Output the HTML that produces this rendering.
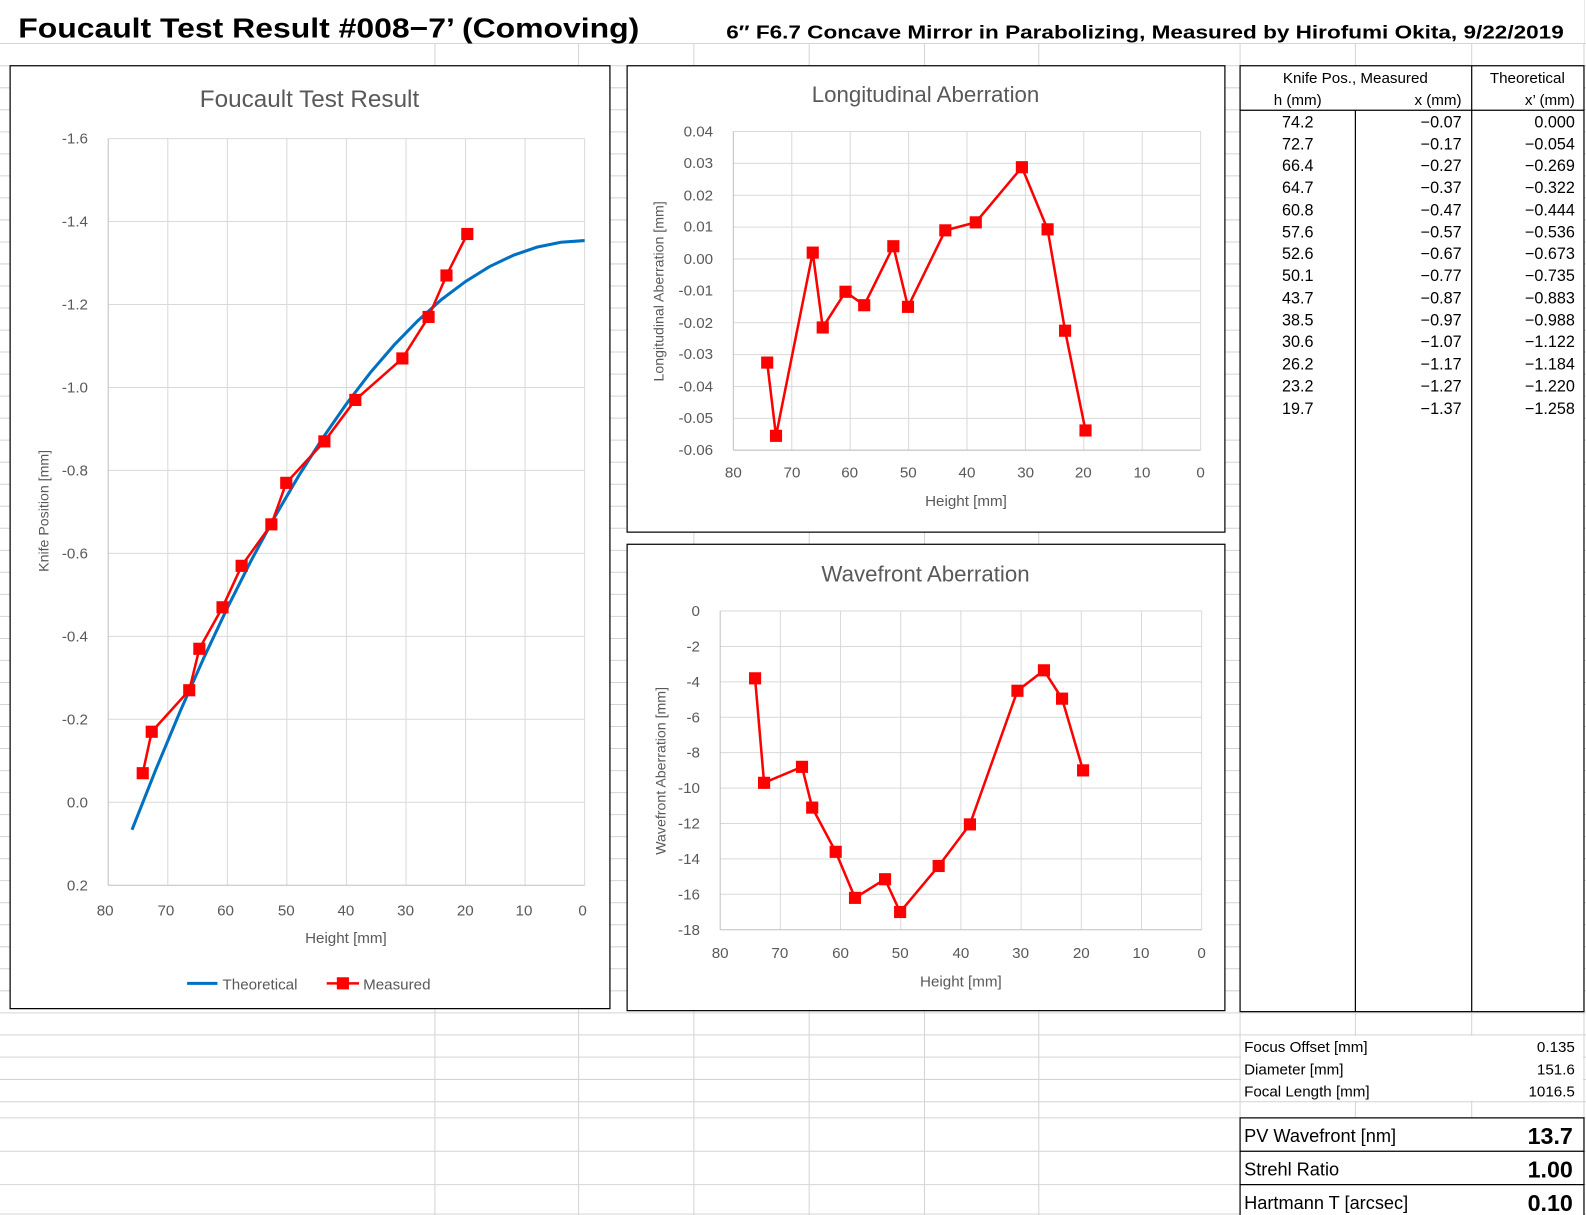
<!DOCTYPE html>
<html><head><meta charset="utf-8"><style>
html,body{margin:0;padding:0;background:#fff;}
svg{display:block;}
.t{font-family:"Liberation Sans",sans-serif;fill:#595959;}
.s{font-family:"Liberation Sans","Noto Sans CJK JP",sans-serif;fill:#000;}
</style></head><body>
<svg width="1586" height="1215" viewBox="0 0 1568 1201" preserveAspectRatio="none" xmlns="http://www.w3.org/2000/svg">
<rect width="1568" height="1201" fill="#fff"/>
<g stroke="#d4d4d4" stroke-width="1">
<line x1="0" y1="43" x2="1568" y2="43"/>
<line x1="0" y1="65" x2="1568" y2="65"/>
<line x1="430" y1="43" x2="430" y2="1201"/><line x1="572" y1="43" x2="572" y2="1201"/>
<line x1="686" y1="43" x2="686" y2="1201"/><line x1="800" y1="43" x2="800" y2="1201"/>
<line x1="914" y1="43" x2="914" y2="1201"/><line x1="1027" y1="43" x2="1027" y2="1201"/>
<line x1="1226" y1="43" x2="1226" y2="1201"/><line x1="1340" y1="43" x2="1340" y2="1105"/>
<line x1="1455" y1="43" x2="1455" y2="1105"/><line x1="1566" y1="0" x2="1566" y2="1201"/>
</g>
<g stroke="#d4d4d4">
<line x1="0" y1="86.8" x2="1568" y2="86.8"/><line x1="0" y1="108.5" x2="1568" y2="108.5"/><line x1="0" y1="130.3" x2="1568" y2="130.3"/><line x1="0" y1="152.1" x2="1568" y2="152.1"/><line x1="0" y1="173.9" x2="1568" y2="173.9"/><line x1="0" y1="195.6" x2="1568" y2="195.6"/><line x1="0" y1="217.4" x2="1568" y2="217.4"/><line x1="0" y1="239.2" x2="1568" y2="239.2"/><line x1="0" y1="260.9" x2="1568" y2="260.9"/><line x1="0" y1="282.7" x2="1568" y2="282.7"/><line x1="0" y1="304.5" x2="1568" y2="304.5"/><line x1="0" y1="326.3" x2="1568" y2="326.3"/><line x1="0" y1="348" x2="1568" y2="348"/><line x1="0" y1="369.8" x2="1568" y2="369.8"/><line x1="0" y1="391.6" x2="1568" y2="391.6"/><line x1="0" y1="413.3" x2="1568" y2="413.3"/><line x1="0" y1="435.1" x2="1568" y2="435.1"/><line x1="0" y1="456.9" x2="1568" y2="456.9"/><line x1="0" y1="478.7" x2="1568" y2="478.7"/><line x1="0" y1="500.4" x2="1568" y2="500.4"/><line x1="0" y1="522.2" x2="1568" y2="522.2"/><line x1="0" y1="544" x2="1568" y2="544"/><line x1="0" y1="565.7" x2="1568" y2="565.7"/><line x1="0" y1="587.5" x2="1568" y2="587.5"/><line x1="0" y1="609.3" x2="1568" y2="609.3"/><line x1="0" y1="631.1" x2="1568" y2="631.1"/><line x1="0" y1="652.8" x2="1568" y2="652.8"/><line x1="0" y1="674.6" x2="1568" y2="674.6"/><line x1="0" y1="696.4" x2="1568" y2="696.4"/><line x1="0" y1="718.1" x2="1568" y2="718.1"/><line x1="0" y1="739.9" x2="1568" y2="739.9"/><line x1="0" y1="761.7" x2="1568" y2="761.7"/><line x1="0" y1="783.5" x2="1568" y2="783.5"/><line x1="0" y1="805.2" x2="1568" y2="805.2"/><line x1="0" y1="827" x2="1568" y2="827"/><line x1="0" y1="848.8" x2="1568" y2="848.8"/><line x1="0" y1="870.5" x2="1568" y2="870.5"/><line x1="0" y1="892.3" x2="1568" y2="892.3"/><line x1="0" y1="914.1" x2="1568" y2="914.1"/><line x1="0" y1="935.9" x2="1568" y2="935.9"/><line x1="0" y1="957.6" x2="1568" y2="957.6"/><line x1="0" y1="979.4" x2="1568" y2="979.4"/><line x1="0" y1="1001.2" x2="1568" y2="1001.2"/><line x1="0" y1="1023" x2="1568" y2="1023"/><line x1="0" y1="1045" x2="1568" y2="1045"/><line x1="0" y1="1067" x2="1568" y2="1067"/><line x1="0" y1="1089" x2="1568" y2="1089"/><line x1="0" y1="1105" x2="1568" y2="1105"/><line x1="0" y1="1138" x2="1568" y2="1138"/><line x1="0" y1="1171" x2="1568" y2="1171"/><line x1="0" y1="1200" x2="1568" y2="1200"/>
</g>
<rect x="0" y="0" width="1566" height="43" fill="#fff"/>
<line x1="0" y1="43" x2="1568" y2="43" stroke="#d4d4d4"/>
<text class="s" x="18" y="37" font-size="27" font-weight="bold" textLength="614" lengthAdjust="spacingAndGlyphs">Foucault Test Result #008−7’ (Comoving)</text>
<text class="s" x="718" y="38" font-size="18" font-weight="bold" textLength="828" lengthAdjust="spacingAndGlyphs">6″ F6.7 Concave Mirror in Parabolizing, Measured by Hirofumi Okita, 9/22/2019</text>

<!-- Chart 1 -->
<rect x="10" y="65" width="593" height="932" fill="#fff" stroke="#000" stroke-width="1.2"/>
<text class="t" x="306" y="106" font-size="24" text-anchor="middle">Foucault Test Result</text>
<g stroke="#d9d9d9" stroke-width="1">
<line x1="107" y1="137" x2="578" y2="137"/><line x1="107" y1="219" x2="578" y2="219"/><line x1="107" y1="301" x2="578" y2="301"/><line x1="107" y1="383" x2="578" y2="383"/><line x1="107" y1="465" x2="578" y2="465"/><line x1="107" y1="547" x2="578" y2="547"/><line x1="107" y1="629" x2="578" y2="629"/><line x1="107" y1="711" x2="578" y2="711"/><line x1="107" y1="793" x2="578" y2="793"/>
<line x1="165.9" y1="137" x2="165.9" y2="875"/><line x1="224.8" y1="137" x2="224.8" y2="875"/><line x1="283.6" y1="137" x2="283.6" y2="875"/><line x1="342.5" y1="137" x2="342.5" y2="875"/><line x1="401.4" y1="137" x2="401.4" y2="875"/><line x1="460.3" y1="137" x2="460.3" y2="875"/><line x1="519.1" y1="137" x2="519.1" y2="875"/><line x1="578" y1="137" x2="578" y2="875"/>
</g>
<g stroke="#bfbfbf"><line x1="107" y1="137" x2="107" y2="875"/><line x1="107" y1="875" x2="578" y2="875"/></g>
<g class="t" font-size="15" text-anchor="end">
<text x="87" y="142">-1.6</text><text x="87" y="224">-1.4</text><text x="87" y="306">-1.2</text><text x="87" y="388">-1.0</text><text x="87" y="470">-0.8</text><text x="87" y="552">-0.6</text><text x="87" y="634">-0.4</text><text x="87" y="716">-0.2</text><text x="87" y="798">0.0</text><text x="87" y="880">0.2</text>
</g>
<g class="t" font-size="15" text-anchor="middle">
<text x="104" y="905">80</text><text x="164" y="905">70</text><text x="223" y="905">60</text><text x="283" y="905">50</text><text x="342" y="905">40</text><text x="401" y="905">30</text><text x="460" y="905">20</text><text x="518" y="905">10</text><text x="576" y="905">0</text>
<text x="342" y="932">Height [mm]</text>
<text transform="translate(48,505) rotate(-90)" font-size="14">Knife Position [mm]</text>
</g>
<polyline fill="none" stroke="#0070c0" stroke-width="3" points="130.5,820.3 154.1,760.6 177.7,704.1 201.2,650.9 224.8,600.8 248.3,554.1 271.9,510.5 295.4,470.2 319,433.1 342.5,399.2 366,368.5 389.6,341.1 413.2,316.9 436.7,295.9 460.3,278.2 483.8,263.6 507.4,252.4 530.9,244.3 554.5,239.5 578,237.8"/>
<polyline fill="none" stroke="#ff0000" stroke-width="2.5" points="141.1,764.3 150,723.3 187.1,682.3 197.1,641.3 220,600.3 238.9,559.3 268.3,518.3 283,477.3 320.7,436.3 351.3,395.3 397.8,354.3 423.7,313.3 441.4,272.3 462,231.3"/>
<g fill="#ff0000">
<rect x="135.1" y="758.3" width="12" height="12"/><rect x="144" y="717.3" width="12" height="12"/><rect x="181.1" y="676.3" width="12" height="12"/><rect x="191.1" y="635.3" width="12" height="12"/><rect x="214" y="594.3" width="12" height="12"/><rect x="232.9" y="553.3" width="12" height="12"/><rect x="262.3" y="512.3" width="12" height="12"/><rect x="277" y="471.3" width="12" height="12"/><rect x="314.7" y="430.3" width="12" height="12"/><rect x="345.3" y="389.3" width="12" height="12"/><rect x="391.8" y="348.3" width="12" height="12"/><rect x="417.7" y="307.3" width="12" height="12"/><rect x="435.4" y="266.3" width="12" height="12"/><rect x="456" y="225.3" width="12" height="12"/>
</g>
<line x1="185" y1="972" x2="215" y2="972" stroke="#0070c0" stroke-width="3"/>
<text class="t" x="220" y="978" font-size="15">Theoretical</text>
<line x1="323" y1="972" x2="355" y2="972" stroke="#ff0000" stroke-width="2.5"/>
<rect x="333" y="966" width="12" height="12" fill="#ff0000"/>
<text class="t" x="359" y="978" font-size="15">Measured</text>

<!-- Chart 2 -->
<rect x="620" y="65" width="591" height="461" fill="#fff" stroke="#000" stroke-width="1.2"/>
<text class="t" x="915" y="101" font-size="22" text-anchor="middle">Longitudinal Aberration</text>
<g stroke="#d9d9d9">
<line x1="725" y1="130" x2="1187" y2="130"/><line x1="725" y1="161.5" x2="1187" y2="161.5"/><line x1="725" y1="193" x2="1187" y2="193"/><line x1="725" y1="224.5" x2="1187" y2="224.5"/><line x1="725" y1="256" x2="1187" y2="256"/><line x1="725" y1="287.5" x2="1187" y2="287.5"/><line x1="725" y1="319" x2="1187" y2="319"/><line x1="725" y1="350.5" x2="1187" y2="350.5"/><line x1="725" y1="382" x2="1187" y2="382"/><line x1="725" y1="413.5" x2="1187" y2="413.5"/>
<line x1="782.8" y1="130" x2="782.8" y2="445"/><line x1="840.5" y1="130" x2="840.5" y2="445"/><line x1="898.3" y1="130" x2="898.3" y2="445"/><line x1="956" y1="130" x2="956" y2="445"/><line x1="1013.8" y1="130" x2="1013.8" y2="445"/><line x1="1071.5" y1="130" x2="1071.5" y2="445"/><line x1="1129.3" y1="130" x2="1129.3" y2="445"/><line x1="1187" y1="130" x2="1187" y2="445"/>
</g>
<g stroke="#bfbfbf"><line x1="725" y1="130" x2="725" y2="445"/><line x1="725" y1="445" x2="1187" y2="445"/></g>
<g class="t" font-size="15" text-anchor="end">
<text x="705" y="135">0.04</text><text x="705" y="166">0.03</text><text x="705" y="198">0.02</text><text x="705" y="229">0.01</text><text x="705" y="261">0.00</text><text x="705" y="292">-0.01</text><text x="705" y="324">-0.02</text><text x="705" y="355">-0.03</text><text x="705" y="387">-0.04</text><text x="705" y="418">-0.05</text><text x="705" y="450">-0.06</text>
</g>
<g class="t" font-size="15" text-anchor="middle">
<text x="725" y="472">80</text><text x="783" y="472">70</text><text x="840" y="472">60</text><text x="898" y="472">50</text><text x="956" y="472">40</text><text x="1014" y="472">30</text><text x="1071" y="472">20</text><text x="1129" y="472">10</text><text x="1187" y="472">0</text>
<text x="955" y="500">Height [mm]</text>
<text transform="translate(656,288) rotate(-90)" font-size="14">Longitudinal Aberration [mm]</text>
</g>
<polyline fill="none" stroke="#ff0000" stroke-width="2.5" points="758.5,358.4 767.2,430.8 803.5,249.7 813.4,323.7 835.9,288.4 854.4,301.7 883.2,243.4 897.7,303.3 934.6,227.7 964.7,219.8 1010.3,165.3 1035.7,226.7 1053,326.9 1073.2,425.5"/>
<g fill="#ff0000">
<rect x="752.5" y="352.4" width="12" height="12"/><rect x="761.2" y="424.8" width="12" height="12"/><rect x="797.5" y="243.7" width="12" height="12"/><rect x="807.4" y="317.7" width="12" height="12"/><rect x="829.9" y="282.4" width="12" height="12"/><rect x="848.4" y="295.7" width="12" height="12"/><rect x="877.2" y="237.4" width="12" height="12"/><rect x="891.7" y="297.3" width="12" height="12"/><rect x="928.6" y="221.7" width="12" height="12"/><rect x="958.7" y="213.8" width="12" height="12"/><rect x="1004.3" y="159.3" width="12" height="12"/><rect x="1029.7" y="220.7" width="12" height="12"/><rect x="1047" y="320.9" width="12" height="12"/><rect x="1067.2" y="419.5" width="12" height="12"/>
</g>

<!-- Chart 3 -->
<rect x="620" y="538" width="591" height="461" fill="#fff" stroke="#000" stroke-width="1.2"/>
<text class="t" x="915" y="575" font-size="22" text-anchor="middle">Wavefront Aberration</text>
<g stroke="#d9d9d9">
<line x1="712" y1="604" x2="1188" y2="604"/><line x1="712" y1="639" x2="1188" y2="639"/><line x1="712" y1="674" x2="1188" y2="674"/><line x1="712" y1="709" x2="1188" y2="709"/><line x1="712" y1="744" x2="1188" y2="744"/><line x1="712" y1="779" x2="1188" y2="779"/><line x1="712" y1="814" x2="1188" y2="814"/><line x1="712" y1="849" x2="1188" y2="849"/><line x1="712" y1="884" x2="1188" y2="884"/>
<line x1="771.5" y1="604" x2="771.5" y2="919"/><line x1="831" y1="604" x2="831" y2="919"/><line x1="890.5" y1="604" x2="890.5" y2="919"/><line x1="950" y1="604" x2="950" y2="919"/><line x1="1009.5" y1="604" x2="1009.5" y2="919"/><line x1="1069" y1="604" x2="1069" y2="919"/><line x1="1128.5" y1="604" x2="1128.5" y2="919"/><line x1="1188" y1="604" x2="1188" y2="919"/>
</g>
<g stroke="#bfbfbf"><line x1="712" y1="604" x2="712" y2="919"/><line x1="712" y1="919" x2="1188" y2="919"/></g>
<g class="t" font-size="15" text-anchor="end">
<text x="692" y="609">0</text><text x="692" y="644">-2</text><text x="692" y="679">-4</text><text x="692" y="714">-6</text><text x="692" y="749">-8</text><text x="692" y="784">-10</text><text x="692" y="819">-12</text><text x="692" y="854">-14</text><text x="692" y="889">-16</text><text x="692" y="924">-18</text>
</g>
<g class="t" font-size="15" text-anchor="middle">
<text x="712" y="947">80</text><text x="771" y="947">70</text><text x="831" y="947">60</text><text x="890" y="947">50</text><text x="950" y="947">40</text><text x="1009" y="947">30</text><text x="1069" y="947">20</text><text x="1128" y="947">10</text><text x="1188" y="947">0</text>
<text x="950" y="975">Height [mm]</text>
<text transform="translate(658,762) rotate(-90)" font-size="14">Wavefront Aberration [mm]</text>
</g>
<polyline fill="none" stroke="#ff0000" stroke-width="2.5" points="746.5,670.5 755.4,773.8 792.9,758 803,798.3 826.2,842 845.3,887.5 875,869.1 889.9,901.5 928,856 958.9,814.9 1005.9,682.8 1032.1,662.6 1050,690.6 1070.8,761.5"/>
<g fill="#ff0000">
<rect x="740.5" y="664.5" width="12" height="12"/><rect x="749.4" y="767.8" width="12" height="12"/><rect x="786.9" y="752" width="12" height="12"/><rect x="797" y="792.3" width="12" height="12"/><rect x="820.2" y="836" width="12" height="12"/><rect x="839.3" y="881.5" width="12" height="12"/><rect x="869" y="863.1" width="12" height="12"/><rect x="883.9" y="895.5" width="12" height="12"/><rect x="922" y="850" width="12" height="12"/><rect x="952.9" y="808.9" width="12" height="12"/><rect x="999.9" y="676.8" width="12" height="12"/><rect x="1026.1" y="656.6" width="12" height="12"/><rect x="1044" y="684.6" width="12" height="12"/><rect x="1064.8" y="755.5" width="12" height="12"/>
</g>

<!-- Table -->
<rect x="1226" y="65" width="340" height="935" fill="#fff" stroke="#000" stroke-width="1.2"/>
<g stroke="#000" stroke-width="1.2">
<line x1="1455" y1="65" x2="1455" y2="1000"/><line x1="1340" y1="109" x2="1340" y2="1000"/><line x1="1226" y1="109" x2="1566" y2="109"/>
</g>
<g class="s" font-size="15">
<text x="1340" y="82" text-anchor="middle">Knife Pos., Measured</text>
<text x="1510" y="82" text-anchor="middle">Theoretical</text>
<text x="1283" y="104" text-anchor="middle">h (mm)</text>
<text x="1445" y="104" text-anchor="end">x (mm)</text>
<text x="1557" y="104" text-anchor="end">x’ (mm)</text>
</g>
<g class="s" font-size="16">
<g text-anchor="middle">
<text x="1283" y="126">74.2</text><text x="1283" y="148">72.7</text><text x="1283" y="169">66.4</text><text x="1283" y="191">64.7</text><text x="1283" y="213">60.8</text><text x="1283" y="235">57.6</text><text x="1283" y="256">52.6</text><text x="1283" y="278">50.1</text><text x="1283" y="300">43.7</text><text x="1283" y="322">38.5</text><text x="1283" y="343">30.6</text><text x="1283" y="365">26.2</text><text x="1283" y="387">23.2</text><text x="1283" y="409">19.7</text>
</g>
<g text-anchor="end">
<text x="1445" y="126">−0.07</text><text x="1445" y="148">−0.17</text><text x="1445" y="169">−0.27</text><text x="1445" y="191">−0.37</text><text x="1445" y="213">−0.47</text><text x="1445" y="235">−0.57</text><text x="1445" y="256">−0.67</text><text x="1445" y="278">−0.77</text><text x="1445" y="300">−0.87</text><text x="1445" y="322">−0.97</text><text x="1445" y="343">−1.07</text><text x="1445" y="365">−1.17</text><text x="1445" y="387">−1.27</text><text x="1445" y="409">−1.37</text>
<text x="1557" y="126">0.000</text><text x="1557" y="148">−0.054</text><text x="1557" y="169">−0.269</text><text x="1557" y="191">−0.322</text><text x="1557" y="213">−0.444</text><text x="1557" y="235">−0.536</text><text x="1557" y="256">−0.673</text><text x="1557" y="278">−0.735</text><text x="1557" y="300">−0.883</text><text x="1557" y="322">−0.988</text><text x="1557" y="343">−1.122</text><text x="1557" y="365">−1.184</text><text x="1557" y="387">−1.220</text><text x="1557" y="409">−1.258</text>
</g>
</g>
<rect x="1227" y="1024" width="338" height="64" fill="#fff"/>
<g class="s" font-size="15">
<text x="1230" y="1040">Focus Offset [mm]</text><text x="1557" y="1040" text-anchor="end">0.135</text>
<text x="1230" y="1062">Diameter [mm]</text><text x="1557" y="1062" text-anchor="end">151.6</text>
<text x="1230" y="1084">Focal Length [mm]</text><text x="1557" y="1084" text-anchor="end">1016.5</text>
</g>
<rect x="1226" y="1105" width="340" height="99" fill="#fff" stroke="#000" stroke-width="1.2"/>
<g stroke="#000" stroke-width="1.2"><line x1="1226" y1="1138" x2="1566" y2="1138"/><line x1="1226" y1="1171" x2="1566" y2="1171"/></g>
<g class="s">
<text x="1230" y="1129" font-size="18">PV Wavefront [nm]</text><text x="1555" y="1131" font-size="23" font-weight="bold" text-anchor="end">13.7</text>
<text x="1230" y="1162" font-size="18">Strehl Ratio</text><text x="1555" y="1164" font-size="23" font-weight="bold" text-anchor="end">1.00</text>
<text x="1230" y="1195" font-size="18">Hartmann T [arcsec]</text><text x="1555" y="1197" font-size="23" font-weight="bold" text-anchor="end">0.10</text>
</g>
</svg>
</body></html>
